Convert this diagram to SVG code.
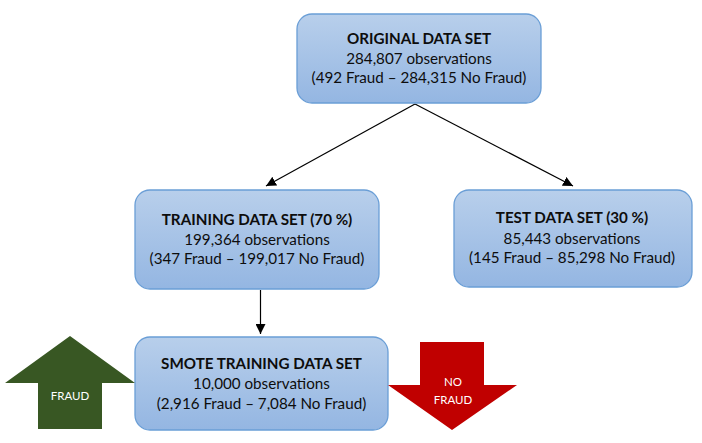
<svg xmlns="http://www.w3.org/2000/svg" width="702" height="443" viewBox="0 0 702 443">
<defs>
<linearGradient id="boxFill" x1="0" y1="0" x2="0" y2="1">
<stop offset="0" stop-color="#b8cfeb"/>
<stop offset="1" stop-color="#94b6e2"/>
</linearGradient>
<marker id="arrow" viewBox="0 0 10 10" refX="10" refY="5" markerWidth="10" markerHeight="10" markerUnits="userSpaceOnUse" orient="auto">
<path d="M0,0 L10,5 L0,10 z" fill="#000"/>
</marker>
</defs>
<style>
.box{fill:url(#boxFill);stroke:#6a9ed6;stroke-width:1.3}
.t{font-family:Lato,"Liberation Sans",sans-serif;font-size:15.2px;fill:#0d0d0d;text-anchor:middle}
.b{font-weight:bold}
.w{font-family:Lato,"Liberation Sans",sans-serif;font-size:11.5px;fill:#fff;text-anchor:middle}
.conn{stroke:#000;stroke-width:1.2;fill:none;marker-end:url(#arrow)}
</style>
<g id="connectors">
<line class="conn" x1="415" y1="104" x2="266" y2="186"/>
<line class="conn" x1="415" y1="104" x2="573" y2="186"/>
<line class="conn" x1="260.5" y1="290" x2="260.5" y2="334"/>
</g>
<g id="original">
<rect class="box" x="297" y="14" width="244" height="89" rx="15"/>
<text class="t b" x="419" y="44">ORIGINAL DATA SET</text>
<text class="t" x="419" y="64">284,807 observations</text>
<text class="t" x="419" y="83">(492 Fraud – 284,315 No Fraud)</text>
</g>
<g id="training">
<rect class="box" x="135" y="190" width="244" height="99" rx="15"/>
<text class="t b" x="257" y="225">TRAINING DATA SET (70 %)</text>
<text class="t" x="257" y="245">199,364 observations</text>
<text class="t" x="257" y="264">(347 Fraud – 199,017 No Fraud)</text>
</g>
<g id="test">
<rect class="box" x="454" y="190" width="238" height="97" rx="15"/>
<text class="t b" x="572" y="223">TEST DATA SET (30 %)</text>
<text class="t" x="572" y="244">85,443 observations</text>
<text class="t" x="572" y="263">(145 Fraud – 85,298 No Fraud)</text>
</g>
<g id="smote">
<rect class="box" x="135" y="337" width="253" height="93" rx="15"/>
<text class="t b" x="261.5" y="369">SMOTE TRAINING DATA SET</text>
<text class="t" x="261.5" y="389">10,000 observations</text>
<text class="t" x="261.5" y="409">(2,916 Fraud – 7,084 No Fraud)</text>
</g>
<g id="fraud-arrow">
<polygon points="70,336 135,383 102,383 102,429 38,429 38,383 5,383" fill="#385723"/>
<text class="w" x="70" y="400">FRAUD</text>
</g>
<g id="nofraud-arrow">
<polygon points="420,342 484,342 484,385 517,385 452,430 388,385 420,385" fill="#c00000"/>
<text class="w" x="453" y="386">NO</text>
<text class="w" x="453" y="404">FRAUD</text>
</g>
</svg>
